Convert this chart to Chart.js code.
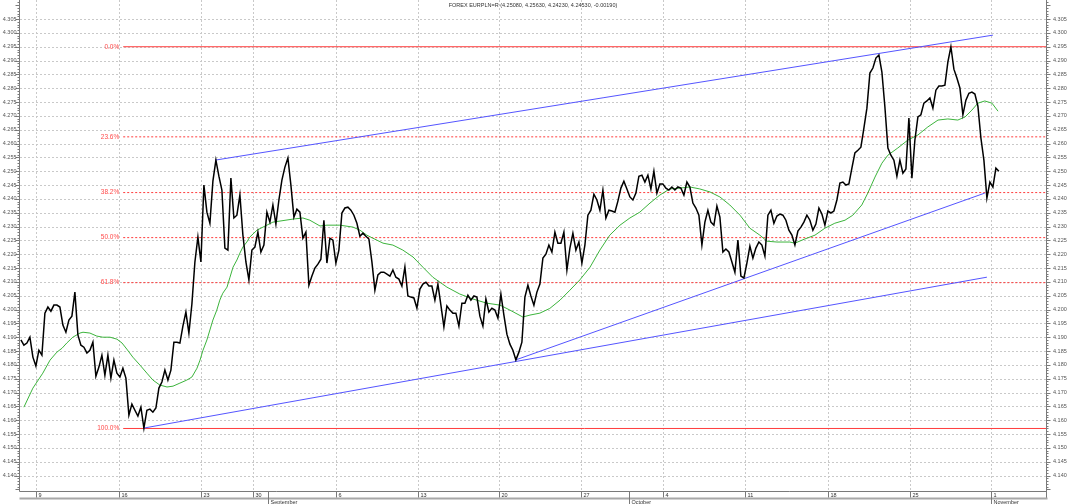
<!DOCTYPE html>
<html><head><meta charset="utf-8">
<script src="https://cdn.jsdelivr.net/npm/chart.js@4.4.1/dist/chart.umd.min.js"></script>
<style>html,body{margin:0;padding:0;background:#fff;overflow:hidden}#wrap{width:1068px;height:504px}</style>
</head><body><div id="wrap"><canvas id="c" width="1068" height="504"></canvas></div>
<script>
const titleText = 'FOREX EURPLN=R (4.25080, 4.25630, 4.24230, 4.24530, -0.00190)';
const viewBars = [6.7, 348.7];
const priceRange = [4.1344, 4.3119];
const priceStartBar = 7;
const price = [
4.1890,4.1871,4.1879,4.1900,4.1828,4.1796,4.1853,4.1835,4.1987,4.2009,
4.1994,4.2016,4.2016,4.2009,4.1944,4.1918,4.1962,4.1976,4.2063,4.1908,
4.1871,4.1864,4.1843,4.1853,4.1882,4.1759,4.1792,4.1835,4.1763,4.1835,
4.1752,4.1817,4.1770,4.1756,4.1788,4.1752,4.1618,4.1658,4.1636,4.1615,
4.1647,4.1571,4.1636,4.1640,4.1629,4.1644,4.1716,4.1738,4.1781,4.1745,
4.1781,4.1882,4.1882,4.1879,4.1940,4.1991,4.1915,4.2020,4.2172,4.2262,
4.2172,4.2450,4.2352,4.2312,4.2464,4.2540,4.2482,4.2432,4.2222,4.2215,
4.2475,4.2331,4.2341,4.2414,4.2269,4.2172,4.2107,4.2215,4.2226,4.2280,
4.2208,4.2233,4.2352,4.2316,4.2378,4.2309,4.2396,4.2468,4.2515,4.2548,
4.2450,4.2334,4.2363,4.2352,4.2258,4.2280,4.2088,4.2121,4.2150,4.2164,
4.2182,4.2323,4.2168,4.2258,4.2251,4.2168,4.2215,4.2349,4.2367,4.2370,
4.2359,4.2341,4.2312,4.2265,4.2276,4.2265,4.2255,4.2172,4.2070,4.2125,
4.2135,4.2135,4.2128,4.2121,4.2143,4.2117,4.2110,4.2085,4.2154,4.2049,
4.2045,4.2042,4.2005,4.2074,4.2092,4.2099,4.2085,4.2085,4.2034,4.2092,
4.2016,4.1937,4.2013,4.1998,4.1987,4.1987,4.1940,4.2023,4.2023,4.2052,
4.2034,4.2049,4.2045,4.1976,4.1940,4.2038,4.1991,4.2005,4.1998,4.1969,
4.2056,4.1980,4.1911,4.1875,4.1853,4.1818,4.1846,4.1882,4.2045,4.2088,
4.2049,4.2016,4.2063,4.2092,4.2186,4.2200,4.2233,4.2208,4.2280,4.2240,
4.2240,4.2280,4.2143,4.2222,4.2276,4.2215,4.2244,4.2168,4.2233,4.2341,
4.2359,4.2417,4.2396,4.2359,4.2432,4.2331,4.2359,4.2356,4.2352,4.2392,
4.2439,4.2464,4.2436,4.2407,4.2396,4.2421,4.2482,4.2486,4.2461,4.2486,
4.2436,4.2500,4.2421,4.2454,4.2454,4.2439,4.2432,4.2443,4.2432,4.2443,
4.2439,4.2414,4.2461,4.2443,4.2385,4.2367,4.2341,4.2233,4.2316,4.2359,
4.2316,4.2305,4.2374,4.2334,4.2208,4.2219,4.2208,4.2172,4.2135,4.2251,
4.2121,4.2114,4.2168,4.2229,4.2186,4.2222,4.2244,4.2233,4.2193,4.2341,
4.2359,4.2312,4.2338,4.2345,4.2341,4.2323,4.2287,4.2269,4.2233,4.2284,
4.2298,4.2316,4.2341,4.2323,4.2287,4.2309,4.2367,4.2345,4.2305,4.2356,
4.2349,4.2356,4.2396,4.2457,4.2461,4.2450,4.2454,4.2511,4.2566,4.2576,
4.2587,4.2656,4.2728,4.2855,4.2873,4.2909,4.2920,4.2858,4.2732,4.2584,
4.2558,4.2540,4.2482,4.2540,4.2493,4.2508,4.2692,4.2475,4.2613,4.2696,
4.2704,4.2746,4.2754,4.2765,4.2728,4.2793,4.2808,4.2808,4.2811,4.2895,
4.2950,4.2869,4.2837,4.2801,4.2704,4.2757,4.2782,4.2786,4.2779,4.2735,
4.2620,4.2540,4.2403,4.2461,4.2443,4.2511,4.2500
];
const maBars = [
8,11,14.3,16.7,19,20.7,22.3,24.3,26.7,27.7,
30,32.3,34.3,36.7,39,40.7,42.3,44.3,46.7,49,
51,53.3,55.7,57.7,60,62.3,64,65.7,66.7,67.7,
69,70,71,72.3,73.3,74.3,75.7,76.7,77.7,79,
80,81,82.3,83.3,85.7,87.7,91,97.7,101,103.3,
106.7,109,113.3,117.7,120,122.3,124.3,127.7,131,134.3,
137.7,141,144.3,149,153.3,157.7,162.3,166.7,170,174.3,
176.7,180,183.3,186.7,190,193.3,196.7,200,203.3,206.7,
210,213.3,216.7,220,223.3,226.7,230,233.3,236.7,240,
243.3,246.7,250,253.3,255.7,259,263.3,265,268.3,271.7,
275,278.3,281.7,284.3,287.3,289.3,291.7,294,296,299.3,
302.7,306,309.3,312.7,316,319.3,321.7,324,326,328.3,
330.7,332.7
];
const maValues = [
4.1647,4.1716,4.1770,4.1817,4.1846,4.1860,4.1879,4.1900,4.1915,4.1918,
4.1915,4.1904,4.1900,4.1900,4.1893,4.1879,4.1857,4.1828,4.1799,4.1770,
4.1745,4.1727,4.1720,4.1723,4.1734,4.1745,4.1756,4.1788,4.1817,4.1853,
4.1890,4.1926,4.1962,4.1998,4.2034,4.2059,4.2081,4.2117,4.2153,4.2179,
4.2204,4.2226,4.2244,4.2262,4.2287,4.2298,4.2316,4.2327,4.2331,4.2323,
4.2302,4.2305,4.2305,4.2298,4.2287,4.2269,4.2258,4.2240,4.2233,4.2215,
4.2190,4.2153,4.2117,4.2081,4.2056,4.2038,4.2023,4.2016,4.1998,4.1973,
4.1980,4.1987,4.2004,4.2034,4.2070,4.2107,4.2153,4.2215,4.2269,4.2305,
4.2331,4.2352,4.2385,4.2414,4.2436,4.2439,4.2443,4.2436,4.2425,4.2407,
4.2378,4.2341,4.2294,4.2269,4.2247,4.2244,4.2244,4.2240,4.2255,4.2269,
4.2294,4.2312,4.2323,4.2341,4.2378,4.2421,4.2479,4.2529,4.2558,4.2584,
4.2613,4.2631,4.2660,4.2685,4.2689,4.2685,4.2696,4.2721,4.2746,4.2754,
4.2746,4.2717
];
const fibHigh = 4.2950;
const fibLow = 4.1570;
const fibLevels = [0, 23.6, 38.2, 50.0, 61.8, 100.0];
const fibStartBar = 41.1;
const trendBarsA = [71.7, 331];   const trendValuesA = [4.2540, 4.2992];
const trendBarsB = [47.7, 329];   const trendValuesB = [4.1571, 4.2117];
const trendBarsC = [171.7, 328.3]; const trendValuesC = [4.1817, 4.2421];
const yTickLabels = ['4.140','4.145','4.150','4.155','4.160','4.165','4.170','4.175','4.180','4.185',
'4.190','4.195','4.200','4.205','4.210','4.215','4.220','4.225','4.230','4.235','4.240','4.245',
'4.250','4.255','4.260','4.265','4.270','4.275','4.280','4.285','4.290','4.295','4.300','4.305'];
const dateTickBars = [12.1, 39.6, 67.1, 84.3, 111.9, 139.5, 166.4, 193.8, 220.9, 248.5, 276, 303.4, 330.5];
const dateTickLabels = ['9','16','23','30','6','13','20','27','4','11','18','25','1'];
const monthBars = [89.5, 209.8, 330.5];
const monthLabels = ['September','October','November'];

const FONT = '"Liberation Sans", Arial, sans-serif';
const fibValue = l => fibHigh - (fibHigh - fibLow) * l / 100;
const seg = (bars, vals) => bars.map((b, i) => ({x: b, y: vals[i]}));

const datasets = [
  {data: price.map((v, i) => ({x: priceStartBar + i, y: v})), borderColor: '#000000', borderWidth: 1.5},
  {data: seg(maBars, maValues), borderColor: '#3cb43c', borderWidth: 1},
  {data: seg(trendBarsA, trendValuesA), borderColor: '#5555ff', borderWidth: 1},
  {data: seg(trendBarsB, trendValuesB), borderColor: '#5555ff', borderWidth: 1},
  {data: seg(trendBarsC, trendValuesC), borderColor: '#5555ff', borderWidth: 1}
];
fibLevels.forEach(l => {
  const solid = (l === 0 || l === 100);
  datasets.push({data: [{x: fibStartBar, y: fibValue(l)}, {x: viewBars[1], y: fibValue(l)}],
    borderColor: '#ff3c3c', borderWidth: 1, borderDash: solid ? [] : [2, 2]});
});
datasets.forEach(d => { d.pointRadius = 0; d.tension = 0; d.fill = false; });

function hline(ctx, x1, x2, y) { ctx.beginPath(); ctx.moveTo(x1, y); ctx.lineTo(x2, y); ctx.stroke(); }
function vline(ctx, x, y1, y2) { ctx.beginPath(); ctx.moveTo(x, y1); ctx.lineTo(x, y2); ctx.stroke(); }

const frame = {
  id: 'frame',
  beforeDraw(chart) {
    const ctx = chart.ctx; ctx.save(); ctx.fillStyle = '#ffffff';
    ctx.fillRect(0, 0, chart.width, chart.height); ctx.restore();
  },
  beforeDatasetsDraw(chart) {
    const {ctx, chartArea: a, scales: {x, y}} = chart;
    ctx.save(); ctx.strokeStyle = '#c9c9c9'; ctx.lineWidth = 1; ctx.setLineDash([2, 2]);
    yTickLabels.forEach(t => hline(ctx, a.left, a.right, Math.round(y.getPixelForValue(+t)) + 0.5));
    dateTickBars.forEach(b => vline(ctx, Math.round(x.getPixelForValue(b)) + 0.5, a.top, a.bottom));
    ctx.restore();
  },
  afterDatasetsDraw(chart) {
    const {ctx, chartArea: a, scales: {x, y}} = chart;
    ctx.save();
    ctx.setLineDash([]); ctx.lineWidth = 1;
    const L = Math.round(a.left) - 0.5, R = Math.round(a.right) + 0.5, B = Math.round(a.bottom) + 0.5;
    // axis lines
    ctx.strokeStyle = '#7a7a7a';
    vline(ctx, L, 0, B); vline(ctx, R, 0, B + 7);
    hline(ctx, L, R, B);
    ctx.strokeStyle = '#a8a8a8'; ctx.lineWidth = 2; hline(ctx, L, R + 1, B + 7); ctx.lineWidth = 1;
    ctx.strokeStyle = '#7a7a7a';
    // minor ticks every 0.001 on both value axes
    for (let k = 4135; k <= 4311; k++) {
      const py = Math.round(y.getPixelForValue(k / 1000)) + 0.5;
      if (py > B) continue;
      const major = (k % 5 === 0);
      hline(ctx, R, R + (major ? 4 : 2), py);
      hline(ctx, L - (major ? 4 : 2), L, py);
    }
    // value labels
    ctx.fillStyle = '#555555'; ctx.font = '5.5px ' + FONT; ctx.textBaseline = 'middle';
    yTickLabels.forEach(t => {
      const py = y.getPixelForValue(+t);
      ctx.textAlign = 'left'; ctx.fillText(t, R + 6.5, py);
      ctx.textAlign = 'right'; ctx.fillText(t, L - 3, py);
    });
    // date strip
    ctx.fillStyle = '#333333';
    dateTickBars.forEach((b, i) => {
      const px = Math.round(x.getPixelForValue(b)) + 0.5;
      vline(ctx, px, B, B + 6);
      ctx.textAlign = 'left'; ctx.fillText(dateTickLabels[i], px + 2, B + 3.5);
    });
    monthBars.forEach((b, i) => {
      const px = Math.round(x.getPixelForValue(b)) + 0.5;
      vline(ctx, px, B, 504);
      ctx.textAlign = 'left'; ctx.fillText(monthLabels[i], px + 2, B + 11);
    });
    // fibonacci labels
    ctx.fillStyle = '#ff4a4a'; ctx.font = '6.5px ' + FONT; ctx.textAlign = 'right';
    const fx = x.getPixelForValue(fibStartBar) - 4;
    fibLevels.forEach(l => ctx.fillText(l.toFixed(1) + '%', fx, y.getPixelForValue(fibValue(l))));
    // title
    ctx.fillStyle = '#333333'; ctx.font = '5.5px ' + FONT; ctx.textAlign = 'center';
    ctx.fillText(titleText, 533, 5);
    ctx.restore();
  }
};

new Chart(document.getElementById('c'), {
  type: 'line',
  data: {datasets},
  options: {
    responsive: false, animation: false, devicePixelRatio: 1,
    layout: {padding: {left: 20, right: 22, top: 0, bottom: 13}},
    plugins: {legend: {display: false}, tooltip: {enabled: false}, title: {display: false}},
    scales: {
      x: {type: 'linear', min: viewBars[0], max: viewBars[1], display: false},
      y: {type: 'linear', min: priceRange[0], max: priceRange[1], display: false}
    }
  },
  plugins: [frame]
});
</script>
</body></html>
